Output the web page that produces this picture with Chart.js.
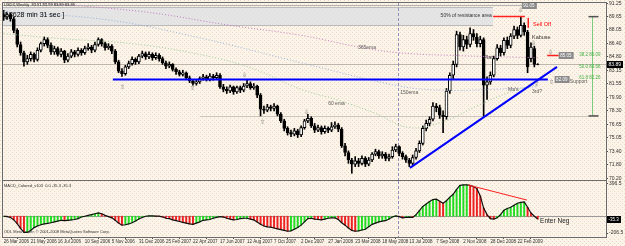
<!DOCTYPE html>
<html>
<head>
<meta charset="utf-8">
<script src="https://cdn.jsdelivr.net/npm/chart.js@4.4.1/dist/chart.umd.min.js"></script>
<style>
  html, body { margin: 0; padding: 0; background: #F9F0E3; }
  #wrap { position: relative; width: 625px; height: 246px; overflow: hidden; }
  canvas { position: absolute; left: 0; }
  #main { top: 0; }
  #macd { top: 181px; }
</style>
</head>
<body>
<div id="wrap">
  <canvas id="main" width="625" height="181"></canvas>
  <canvas id="macd" width="625" height="65"></canvas>
</div>
<script>
// --- data: USDX weekly, 26 Mar 2006 .. Apr 2009 (week index 0..158) ---
const dateTickWeeks = [0, 8, 16, 24, 32, 40, 48, 56, 64, 72, 80, 88, 96, 104, 112, 120, 128, 136, 144, 152];
const dateLabels = ['26 Mar 2006', '21 May 2006', '16 Jul 2006', '10 Sep 2006', '5 Nov 2006', '31 Dec 2006',
  '25 Feb 2007', '22 Apr 2007', '17 Jun 2007', '12 Aug 2007', '7 Oct 2007', '2 Dec 2007', '27 Jan 2008',
  '23 Mar 2008', '18 May 2008', '13 Jul 2008', '7 Sep 2008', '2 Nov 2008', '28 Dec 2008', '22 Feb 2009'];
const priceTicks = [91.25, 89.65, 88.05, 86.40, 84.80, 83.15, 81.55, 79.90, 78.30, 76.65, 75.05, 73.40, 71.80, 70.20];
const macdTicks = [396.5, -206.5];

const openP = [89.9, 89.6, 89.9, 89.4, 88.0, 86.3, 85.3, 84.2, 84.6, 85.1,
  84.5, 85.6, 86.4, 86.9, 86.2, 85.4, 85.8, 85.1, 85.5, 84.4,
  84.9, 85.4, 85.1, 85.6, 85.3, 85.8, 86.0, 85.6, 86.3, 86.9,
  86.4, 85.9, 86.1, 85.5, 84.2, 83.1, 82.8, 83.6, 84.0, 84.5,
  84.2, 84.9, 85.2, 84.8, 85.1, 84.7, 85.0, 84.6, 84.1, 83.7,
  83.9, 83.3, 83.0, 82.7, 82.9, 82.3, 81.9, 81.6, 81.8, 82.2,
  82.4, 82.1, 82.5, 82.3, 82.6, 81.2, 80.9, 80.7, 81.2, 80.6,
  81.1, 80.8, 81.3, 81.6, 81.1, 81.3, 80.2, 78.5, 78.4, 78.8,
  78.6, 78.9, 77.9, 77.1, 76.2, 75.7, 75.5, 75.9, 75.4, 76.3,
  77.1, 77.4, 76.5, 76.0, 76.3, 75.8, 76.2, 76.0, 76.4, 76.6,
  76.1, 74.1, 73.3, 72.4, 71.9, 72.3, 72.0, 72.6, 71.9, 72.4,
  73.1, 73.4, 72.9, 73.1, 72.6, 72.8, 73.6, 74.0, 73.2, 72.8,
  72.4, 72.0, 72.7, 73.5, 74.4, 76.2, 76.8, 77.3, 78.9, 78.7,
  77.8, 77.6, 80.7, 82.6, 83.9, 87.5, 86.0, 86.9, 86.3, 87.6,
  87.2, 86.4, 86.9, 81.4, 81.8, 82.6, 84.6, 85.9, 85.3, 86.8,
  86.2, 87.3, 88.1, 87.4, 88.6, 87.8, 84.6, 85.8, 83.91];
const highP = [90.4, 90.2, 90.1, 89.6, 88.2, 86.6, 85.5, 85.0, 85.4, 85.3,
  85.9, 86.6, 87.2, 87.1, 86.5, 86.1, 86.0, 85.8, 85.6, 85.2,
  85.7, 85.6, 85.9, 85.8, 86.1, 86.4, 86.2, 86.6, 87.1, 87.0,
  86.6, 86.4, 86.3, 85.7, 84.4, 83.4, 83.8, 84.3, 84.8, 84.7,
  85.1, 85.5, 85.4, 85.4, 85.3, 85.3, 85.2, 84.8, 84.3, 84.2,
  84.0, 83.5, 83.2, 83.2, 83.0, 82.5, 82.1, 82.1, 82.4, 82.7,
  82.6, 82.8, 82.7, 82.9, 82.8, 81.5, 81.2, 81.4, 81.3, 81.3,
  81.3, 81.6, 82.1, 81.8, 81.6, 81.4, 80.4, 78.9, 79.1, 79.0,
  79.2, 79.0, 78.1, 77.3, 76.4, 76.0, 76.2, 76.1, 76.5, 77.3,
  77.9, 77.6, 76.8, 76.6, 76.5, 76.5, 76.4, 76.9, 77.0, 76.8,
  76.3, 74.4, 73.5, 72.6, 72.8, 72.6, 72.9, 72.8, 72.7, 73.3,
  73.7, 73.6, 73.4, 73.3, 73.1, 74.0, 74.3, 74.1, 73.4, 73.0,
  72.6, 73.0, 73.8, 74.7, 76.5, 77.2, 77.6, 79.3, 79.2, 79.0,
  78.3, 81.0, 82.9, 84.3, 87.9, 87.8, 87.4, 87.3, 88.3, 88.1,
  87.6, 87.3, 87.1, 82.4, 83.0, 84.9, 86.3, 86.2, 87.1, 87.2,
  87.6, 88.5, 88.4, 89.65, 88.9, 88.0, 86.5, 86.1, 83.99];
const lowP = [89.2, 89.3, 89.1, 87.7, 86.0, 85.0, 83.7, 83.9, 84.3, 84.2,
  84.3, 85.4, 86.1, 85.9, 85.1, 85.1, 84.9, 84.8, 84.1, 84.2,
  84.7, 84.8, 84.9, 85.0, 85.1, 85.6, 85.3, 85.4, 86.1, 86.1,
  85.6, 85.7, 85.2, 84.0, 82.9, 82.45, 82.6, 83.4, 83.8, 83.9,
  84.0, 84.7, 84.5, 84.6, 84.4, 84.5, 84.3, 83.9, 83.4, 83.5,
  83.1, 82.7, 82.5, 82.5, 82.1, 81.7, 81.4, 81.4, 81.6, 82.0,
  81.9, 81.9, 82.0, 82.1, 81.0, 80.6, 80.4, 80.5, 80.3, 80.4,
  80.5, 80.6, 81.1, 80.9, 80.9, 79.9, 77.7, 78.0, 78.2, 78.3,
  78.3, 77.7, 76.9, 75.9, 75.4, 75.2, 75.3, 75.1, 75.2, 76.1,
  76.9, 76.3, 75.7, 75.8, 75.5, 75.6, 75.7, 75.8, 76.2, 75.8,
  73.9, 72.9, 72.0, 70.8, 71.6, 71.6, 71.8, 71.6, 71.7, 72.2,
  72.9, 72.6, 72.6, 72.3, 72.3, 72.6, 73.4, 72.9, 72.5, 72.1,
  71.6, 71.8, 72.5, 73.3, 74.2, 75.9, 76.5, 77.1, 78.2, 77.4,
  75.7, 77.3, 80.4, 82.2, 83.6, 85.6, 85.5, 85.8, 86.0, 86.8,
  86.0, 86.0, 77.7, 79.7, 81.5, 82.4, 84.4, 84.9, 85.0, 85.8,
  85.9, 87.0, 87.0, 87.2, 87.4, 82.9, 84.2, 83.6, 83.85];
const closeP = [89.6, 89.9, 89.4, 88.0, 86.3, 85.3, 84.2, 84.6, 85.1, 84.5,
  85.6, 86.4, 86.9, 86.2, 85.4, 85.8, 85.1, 85.5, 84.4, 84.9,
  85.4, 85.1, 85.6, 85.3, 85.8, 86.0, 85.6, 86.3, 86.9, 86.4,
  85.9, 86.1, 85.5, 84.2, 83.1, 82.8, 83.6, 84.0, 84.5, 84.2,
  84.9, 85.2, 84.8, 85.1, 84.7, 85.0, 84.6, 84.1, 83.7, 83.9,
  83.3, 83.0, 82.7, 82.9, 82.3, 81.9, 81.6, 81.8, 82.2, 82.4,
  82.1, 82.5, 82.3, 82.6, 81.2, 80.9, 80.7, 81.2, 80.6, 81.1,
  80.8, 81.3, 81.6, 81.1, 81.3, 80.2, 78.5, 78.4, 78.8, 78.6,
  78.9, 77.9, 77.1, 76.2, 75.7, 75.5, 75.9, 75.4, 76.3, 77.1,
  77.4, 76.5, 76.0, 76.3, 75.8, 76.2, 76.0, 76.4, 76.6, 76.1,
  74.1, 73.3, 72.4, 71.9, 72.3, 72.0, 72.6, 71.9, 72.4, 73.1,
  73.4, 72.9, 73.1, 72.6, 72.8, 73.6, 74.0, 73.2, 72.8, 72.4,
  72.0, 72.7, 73.5, 74.4, 76.2, 76.8, 77.3, 78.9, 78.7, 77.8,
  77.6, 80.7, 82.6, 83.9, 87.5, 86.0, 86.9, 86.3, 87.6, 87.2,
  86.4, 86.9, 81.4, 81.8, 82.6, 84.6, 85.9, 85.3, 86.8, 86.2,
  87.3, 88.1, 87.4, 88.6, 87.8, 83.6, 86.0, 83.9, 83.89];

// MACD_Colored histogram, one value per week
const macdHist = [0, -5, -15, -45, -90, -150, -200, -200, -175, -140,
  -120, -105, -95, -88, -80, -70, -60, -50, -55, -50,
  -45, -40, -30, -10, 0, 10, 20, 30, 40, 30,
  10, -5, -20, -50, -85, -110, -105, -95, -80, -60,
  -35, -15, 0, 5, 5, 2, 0, -10, -25, -30,
  -45, -55, -65, -75, -85, -95, -100, -85, -70, -50,
  -45, -40, -25, -15, -5, -10, -25, -35, -45, -40,
  -30, -25, -25, -35, -45, -70, -100, -120, -130, -135,
  -145, -155, -165, -175, -185, -180, -160, -140, -110, -70,
  -30, -25, -35, -40, -45, -35, -25, -20, -20, -40,
  -80, -110, -145, -175, -185, -180, -170, -160, -130, -100,
  -85, -70, -60, -55, -35, -10, 5, -5, -20, -15,
  -10, -15, 20, 70, 120, 150, 180, 205, 210, 185,
  160, 190, 235, 270, 330, 380, 385, 385, 380, 365,
  340, 250, 100, 20, -30, -35, -20, 20, 75, 95,
  110, 135, 160, 170, 175, 110, 40, 0, -35];

// moving averages at a few weeks
const ema365Weeks = [0, 40, 67, 88, 105, 117, 135, 158];
const ema365 = [91.6, 90.3, 88.6, 87.4, 86.0, 85.3, 84.95, 84.7];
const ema150Weeks = [0, 30, 58, 88, 117, 130, 145, 158];
const ema150 = [90.2, 89.3, 87.1, 84.1, 81.3, 80.8, 80.9, 81.2];
const ema60Weeks = [0, 17, 38, 58, 73, 88, 99, 110, 120, 130, 140, 150, 158];
const ema60 = [87.6, 87.0, 86.4, 85.1, 83.5, 80.9, 79.6, 78.0, 76.3, 77.0, 78.9, 80.6, 81.5];

// drawn objects (week, price)
const supportLevel = 82.09, supportFrom = 32.3, supportTo = 161.0;
const trendWeeks = [120.2, 163.7], trendPrices = [71.45, 83.6];
const bidPrice = 83.89;
const bandTop = 90.8, bandBottom = 88.64, bandEnd = 144.8, bandLine = 91.05, bandLineEnd = 153.3;
const halfLevel = 89.73, halfFrom = 144.8, halfTo = 154.2;
const lowLine = 77.7, lowLineFrom = 58;
const fibWeek = 174.2, fibHigh = 89.65, fibLow = 77.7;
const fibRatios = [38.2, 50.0, 61.8];
const separatorWeek = 116.7;
const macdTrendWeeks = [137.4, 154.8], macdTrendValues = [384, 199];

const xMin = -0.2, xMax = 178.2;
const FONT = '"Liberation Sans", Arial, sans-serif';
Chart.defaults.font.family = FONT;

const mainNotes = [
  ['365ema', 104.8, 85.87, '#5a5a5a', 5, 'left'],
  ['150ema', 117.3, 80.46, '#5a5a5a', 5, 'left'],
  ['60 ema', 96.0, 79.14, '#5a5a5a', 5, 'left'],
  ['Flat', 142.0, 84.79, '#333', 5.5, 'left'],
  ["Ma's", 149.2, 80.82, '#5a5a5a', 5, 'left'],
  ['3rd?', 156.3, 80.58, '#5a5a5a', 5, 'left'],
  ['Kabuse', 156.3, 87.2, '#333', 5.5, 'left'],
  ['Sell Off', 156.6, 88.76, '#FF0000', 5.5, 'left'],
  ['50% of resistance area', 144.4, 89.73, '#333', 5, 'right'],
  ['Support', 167.5, 81.78, '#5a5a5a', 5, 'left']
];
const fractals = [
  [35.2, 81.18, 'up'], [56, 81.06, 'up'], [71.2, 82.63, 'down'], [76.5, 76.97, 'up'],
  [89.6, 78.17, 'down'], [153, 90.45, 'down'], [156.7, 86.48, 'down'], [161.8, 85.39, 'down'],
  [157.6, 81.54, 'up'], [162.0, 81.78, 'up']
];
const priceBoxes = [['91.05', 153.3, 91.05], ['85.05', 164.2, 85.05], ['82.09', 163.0, 82.09]];

// --- helpers ---
const dotTile = (() => {
  const c = document.createElement('canvas');
  c.width = 4; c.height = 4;
  const g = c.getContext('2d');
  g.fillStyle = '#FCF4E8'; g.fillRect(0, 0, 4, 4);
  g.fillStyle = '#EBDAC6'; g.fillRect(0, 0, 1, 1); g.fillRect(2, 2, 1, 1);
  return c;
})();

function seg(ctx, x1, y1, x2, y2, color, width, dash) {
  ctx.save();
  ctx.strokeStyle = color; ctx.lineWidth = width || 1;
  ctx.setLineDash(dash || []);
  ctx.beginPath(); ctx.moveTo(x1, y1); ctx.lineTo(x2, y2); ctx.stroke();
  ctx.restore();
}
function text(ctx, str, x, y, color, size, align) {
  ctx.save();
  ctx.font = size + 'px ' + FONT;
  ctx.fillStyle = color; ctx.textAlign = align || 'left'; ctx.textBaseline = 'middle';
  ctx.fillText(str, x, y);
  ctx.restore();
}
function box(ctx, str, x, y, bg, fg, size) {
  ctx.save();
  ctx.font = size + 'px ' + FONT;
  const w = Math.ceil(ctx.measureText(str).width) + 3;
  ctx.fillStyle = bg; ctx.fillRect(x, Math.round(y) - 3, w, 7);
  ctx.fillStyle = fg; ctx.textBaseline = 'middle';
  ctx.fillText(str, x + 1.5, Math.round(y) + 0.5);
  ctx.restore();
}

const backdrop = {
  id: 'backdrop',
  beforeDraw(chart) {
    const ctx = chart.ctx;
    ctx.save();
    ctx.fillStyle = ctx.createPattern(dotTile, 'repeat');
    ctx.fillRect(0, 0, chart.width, chart.height);
    ctx.restore();
  },
  afterDraw(chart) {
    const a = chart.chartArea, ctx = chart.ctx;
    ctx.save();
    ctx.strokeStyle = '#6a6a6a'; ctx.lineWidth = 1;
    ctx.strokeRect(a.left - 0.5, a.top - 0.5, a.right - a.left + 1, a.bottom - a.top + 1);
    ctx.restore();
  }
};

const mainDecor = {
  id: 'mainDecor',
  beforeDatasetsDraw(chart) {
    const ctx = chart.ctx, a = chart.chartArea, x = chart.scales.x, y = chart.scales.y;
    ctx.save();
    ctx.beginPath(); ctx.rect(a.left, a.top, a.right - a.left, a.bottom - a.top); ctx.clip();
    // resistance area
    const bx2 = x.getPixelForValue(bandEnd);
    const by1 = Math.round(y.getPixelForValue(bandTop)) + 0.5, by2 = Math.round(y.getPixelForValue(bandBottom)) + 0.5;
    ctx.fillStyle = 'rgba(218,222,226,0.7)';
    ctx.fillRect(a.left, by1, bx2 - a.left, by2 - by1);
    seg(ctx, a.left, by1, bx2, by1, '#BBBBBB');
    seg(ctx, a.left, by2, bx2, by2, '#BBBBBB');
    const tl = Math.round(y.getPixelForValue(bandLine)) + 0.5;
    seg(ctx, a.left, tl, x.getPixelForValue(bandLineEnd), tl, '#B4B4B4');
    // bid line and the old low line
    const bl = Math.round(y.getPixelForValue(bidPrice)) + 0.5;
    seg(ctx, a.left, bl, a.right, bl, '#BDB5AC');
    const ll = Math.round(y.getPixelForValue(lowLine)) + 0.5;
    seg(ctx, x.getPixelForValue(lowLineFrom), ll, x.getPixelForValue(fibWeek + 1.8), ll, '#CCC4BB');
    // period separator
    const sx = Math.round(x.getPixelForValue(separatorWeek)) + 0.5;
    seg(ctx, sx, a.top, sx, a.bottom, '#8E8EB8', 1, [3, 2]);
    ctx.restore();
  },
  afterDatasetsDraw(chart) {
    const ctx = chart.ctx, a = chart.chartArea, x = chart.scales.x, y = chart.scales.y;
    // 50% line and sell off marks
    const hy = Math.round(y.getPixelForValue(halfLevel)) + 0.5;
    seg(ctx, x.getPixelForValue(halfFrom), hy, x.getPixelForValue(halfTo), hy, '#FF2020', 1.5);
    const sxo = x.getPixelForValue(155.2);
    seg(ctx, sxo, y.getPixelForValue(89.5), sxo, y.getPixelForValue(88.3), '#FF2020', 1.5);
    const ry = Math.round(y.getPixelForValue(85.05)) + 0.5;
    seg(ctx, x.getPixelForValue(160.8), ry, x.getPixelForValue(164.2), ry, '#FF2020', 1.5);
    // fibonacci
    const fx = Math.round(x.getPixelForValue(fibWeek)) + 0.5;
    seg(ctx, fx, y.getPixelForValue(fibHigh), fx, y.getPixelForValue(fibLow), '#7CCB7C', 1);
    seg(ctx, fx - 4, y.getPixelForValue(fibHigh), fx + 6, y.getPixelForValue(fibHigh), '#505050', 1.5);
    seg(ctx, fx - 4, y.getPixelForValue(fibLow), fx + 6, y.getPixelForValue(fibLow), '#505050', 1.5);
    fibRatios.forEach(r => {
      const lvl = fibHigh - (fibHigh - fibLow) * r / 100;
      text(ctx, r.toFixed(1) + ' ' + lvl.toFixed(2), fx + 8, y.getPixelForValue(lvl), '#44B044', 4.5, 'right');
    });
    // notes and fractal arrows
    mainNotes.forEach(n => text(ctx, n[0], x.getPixelForValue(n[1]), y.getPixelForValue(n[2]), n[3], n[4], n[5]));
    fractals.forEach(f => text(ctx, f[2] === 'up' ? '\u21E7' : '\u21E9', x.getPixelForValue(f[0]), y.getPixelForValue(f[1]), '#707070', 6, 'center'));
    priceBoxes.forEach(b => box(ctx, b[0], x.getPixelForValue(b[1]), y.getPixelForValue(b[2]), '#8A8A8A', '#FFFFFF', 4.5));
    // header texts
    text(ctx, 'USDX,Weekly  83.91 83.99 83.89 83.89', 4, 5, '#202020', 4, 'left');
    text(ctx, '[ 8628 min 31 sec ]', 5, 15, '#000000', 7, 'left');
    // current price on the axis
    box(ctx, bidPrice.toFixed(2), a.right + 1, y.getPixelForValue(bidPrice), '#000000', '#FFFFFF', 5);
  }
};

// --- candles built from the OHLC arrays ---
const weeks = closeP.map((c, i) => i);
const bodies = weeks.map(i => ({ x: i, y: [openP[i], closeP[i]] }));
const wicks = weeks.map(i => ({ x: i, y: [lowP[i], highP[i]] }));
const bodyFill = weeks.map(i => closeP[i] >= openP[i] ? '#FFFFFF' : '#000000');
const pairs = (ws, vs) => ws.map((w, i) => ({ x: w, y: vs[i] }));

const rightAxis = (min, max, tickList, digits) => ({
  type: 'linear', position: 'right', min: min, max: max,
  afterFit(s) { s.width = 19; s.paddingTop = 0; s.paddingBottom = 0; },
  afterBuildTicks(s) { s.ticks = tickList.map(v => ({ value: v })); },
  ticks: { callback: v => v.toFixed(digits), font: { size: 5 }, color: '#303030', padding: 1, autoSkip: false },
  grid: { drawOnChartArea: false, tickLength: 2, color: '#505050' },
  border: { color: '#505050' }
});

new Chart(document.getElementById('main'), {
  type: 'bar',
  data: {
    datasets: [
      { type: 'line', data: [{ x: supportFrom, y: supportLevel }, { x: supportTo, y: supportLevel }],
        borderColor: '#0000FF', borderWidth: 2, pointRadius: 0, order: 0 },
      { type: 'line', data: pairs(trendWeeks, trendPrices),
        borderColor: '#0000FF', borderWidth: 2, pointRadius: 0, order: 0 },
      { type: 'line', data: pairs(ema365Weeks, ema365), borderColor: '#C47AC4', borderWidth: 1,
        borderDash: [1, 2], pointRadius: 0, tension: 0.4, order: 1 },
      { type: 'line', data: pairs(ema150Weeks, ema150), borderColor: '#98B2E0', borderWidth: 1,
        borderDash: [1, 2], pointRadius: 0, tension: 0.4, order: 1 },
      { type: 'line', data: pairs(ema60Weeks, ema60), borderColor: '#9CCB9C', borderWidth: 1,
        borderDash: [1, 2], pointRadius: 0, tension: 0.4, order: 1 },
      { data: bodies, backgroundColor: bodyFill, borderColor: '#000000', borderWidth: 1,
        borderSkipped: false, barThickness: 3, grouped: false, order: 2 },
      { data: wicks, backgroundColor: '#000000', barThickness: 1, grouped: false, order: 3 }
    ]
  },
  options: {
    responsive: false, animation: false, devicePixelRatio: 1,
    layout: { padding: { left: 3, top: 3, right: 0, bottom: 1 } },
    plugins: { legend: { display: false }, tooltip: { enabled: false } },
    scales: {
      x: { type: 'linear', min: xMin, max: xMax, offset: false, display: false },
      y: rightAxis(69.99, 91.29, priceTicks, 2)
    }
  },
  plugins: [backdrop, mainDecor]
});

// --- MACD sub window ---
const macdColors = macdHist.map((v, i) => (i === 0 || v >= macdHist[i - 1]) ? '#22DD22' : '#EE2222');
const macdDecor = {
  id: 'macdDecor',
  beforeDatasetsDraw(chart) {
    const ctx = chart.ctx, a = chart.chartArea, x = chart.scales.x, y = chart.scales.y;
    const zy = Math.round(y.getPixelForValue(0)) + 0.5;
    seg(ctx, a.left, zy, a.right, zy, '#9A9A9A');
    const sx = Math.round(x.getPixelForValue(separatorWeek)) + 0.5;
    seg(ctx, sx, a.top, sx, a.bottom, '#8E8EB8', 1, [3, 2]);
  },
  afterDatasetsDraw(chart) {
    const ctx = chart.ctx, a = chart.chartArea, x = chart.scales.x, y = chart.scales.y;
    text(ctx, 'MACD_Colored_v103  0.0 -35.3 -35.3', 4, 5, '#303030', 4, 'left');
    text(ctx, 'ODL MetaTrader, \u00A9 2001-2008 MetaQuotes Software Corp.', 4, 51, '#303030', 4, 'left');
    text(ctx, 'Enter Neg', x.getPixelForValue(158.7), y.getPixelForValue(-59), '#202020', 6.5, 'left');
    box(ctx, '-35.3', a.right + 1, y.getPixelForValue(-35.3), '#000000', '#FFFFFF', 4.5);
  }
};

new Chart(document.getElementById('macd'), {
  type: 'bar',
  data: {
    datasets: [
      { type: 'line', data: pairs(macdTrendWeeks, macdTrendValues), borderColor: '#FF2020',
        borderWidth: 1, pointRadius: 0, order: 0 },
      { type: 'line', data: pairs(weeks, macdHist), borderColor: '#101010', borderWidth: 1.2,
        pointRadius: 0, order: 1 },
      { data: pairs(weeks, macdHist), backgroundColor: macdColors, barThickness: 1.3, grouped: false, order: 2 }
    ]
  },
  options: {
    responsive: false, animation: false, devicePixelRatio: 1,
    layout: { padding: { left: 3, top: 0, right: 0, bottom: 0 } },
    plugins: { legend: { display: false }, tooltip: { enabled: false } },
    scales: {
      x: {
        type: 'linear', position: 'bottom', min: xMin, max: xMax, offset: false,
        afterFit(s) { s.height = 9; s.paddingLeft = 0; s.paddingRight = 0; },
        afterBuildTicks(s) { s.ticks = dateTickWeeks.map(v => ({ value: v })); },
        ticks: { align: 'start', callback: (v, i) => dateLabels[i], font: { size: 4.5 }, color: '#303030',
          padding: 0, maxRotation: 0, minRotation: 0, autoSkip: false },
        grid: { drawOnChartArea: false, tickLength: 2, color: '#505050' },
        border: { color: '#505050' }
      },
      y: rightAxis(-255.7, 433.4, macdTicks, 1)
    }
  },
  plugins: [backdrop, macdDecor]
});
</script>
</body>
</html>
